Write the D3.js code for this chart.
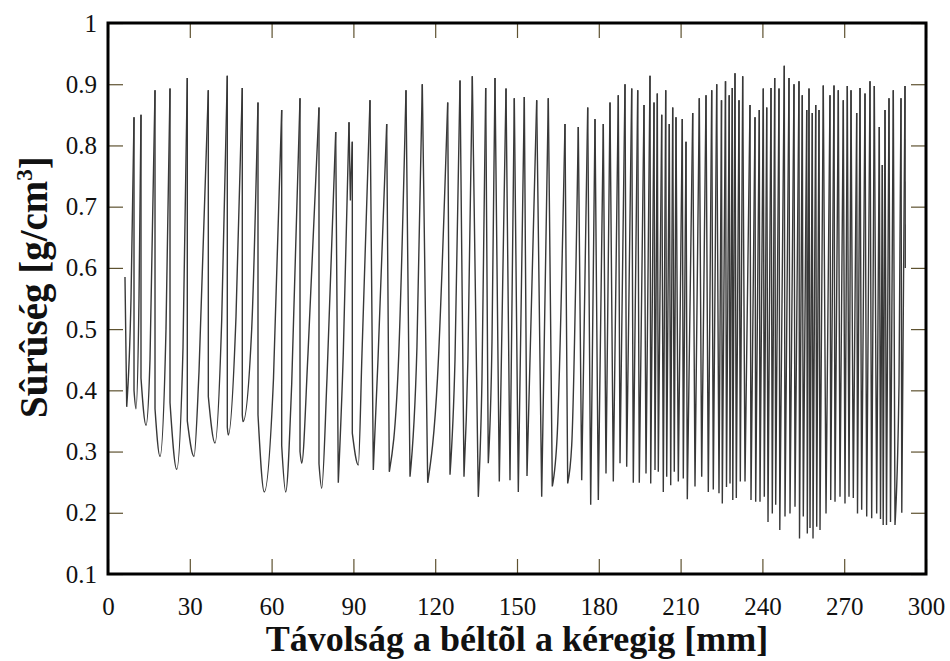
<!DOCTYPE html>
<html>
<head>
<meta charset="utf-8">
<script src="https://cdnjs.cloudflare.com/ajax/libs/d3/7.8.5/d3.min.js"></script>
<style>
  body { margin: 0; background: #fff; }
  svg { display: block; }
</style>
</head>
<body>
<div id="chart"></div>
<script>

// axis ticks
var xTicks = [0, 30, 60, 90, 120, 150, 180, 210, 240, 270, 300];
var yTicks = [0.1, 0.2, 0.3, 0.4, 0.5, 0.6, 0.7, 0.8, 0.9, 1];

// first and last sample of the profile
var startMm = 6.23, startVal = 0.585;
var endMm = 292.4, endVal = 0.6;

// one entry per ring: earlywood minimum, optional knee on the way up, latewood peak
var minMm = [6.86, 10.27, 13.94, 19.07, 25.20, 31.54, 39.24, 44.12, 49.51, 57.32,
    65.17, 71.04, 78.37, 84.46, 88.90, 91.80, 97.30, 103.17, 110.76, 117.25,
    125.43, 130.56, 135.81, 139.47, 143.51, 147.43, 150.48, 153.67, 159.06, 162.95,
    168.59, 173.73, 177.03, 179.82, 182.64, 185.32, 187.78, 190.23, 192.65, 194.85,
    197.31, 199.04, 200.61, 201.82, 203.65, 204.90, 206.37, 207.69, 209.16, 210.99,
    212.46, 215.28, 217.74, 220.16, 221.99, 224.08, 225.29, 226.83, 228.12, 229.14,
    230.43, 231.90, 233.62, 235.82, 237.54, 239.12, 240.70, 242.06, 243.63, 244.88,
    246.38, 248.29, 250.12, 251.96, 253.61, 255.00, 256.47, 257.46, 258.56, 259.92,
    261.13, 263.33, 265.05, 266.63, 268.46, 270.29, 271.76, 273.34, 274.88, 276.41,
    278.25, 280.08, 281.91, 283.31, 284.30, 285.51, 286.98, 288.63, 291.12];

var minVal = [0.373, 0.37, 0.343, 0.292, 0.271, 0.292, 0.314, 0.327, 0.349, 0.234,
    0.234, 0.281, 0.24, 0.249, 0.71, 0.278, 0.27, 0.267, 0.259, 0.249,
    0.262, 0.259, 0.226, 0.281, 0.251, 0.253, 0.234, 0.26, 0.226, 0.243,
    0.248, 0.253, 0.213, 0.221, 0.264, 0.251, 0.281, 0.275, 0.249, 0.249,
    0.264, 0.248, 0.27, 0.267, 0.234, 0.259, 0.245, 0.267, 0.251, 0.256,
    0.222, 0.243, 0.259, 0.234, 0.238, 0.232, 0.215, 0.242, 0.248, 0.221,
    0.224, 0.251, 0.251, 0.221, 0.218, 0.218, 0.226, 0.185, 0.199, 0.213,
    0.172, 0.194, 0.199, 0.21, 0.158, 0.194, 0.166, 0.175, 0.158, 0.177,
    0.172, 0.199, 0.221, 0.218, 0.226, 0.215, 0.226, 0.224, 0.199, 0.205,
    0.194, 0.191, 0.199, 0.19, 0.18, 0.18, 0.185, 0.18, 0.20];

// where the steep fall after the previous peak ends (null = falls straight to the minimum)
var dropVal = [null, 0.40, 0.42, 0.37, 0.38, 0.35, 0.39, 0.34, 0.36, 0.36,
    0.31, 0.30, 0.28, null, null, 0.33, null, null, null, null,
    null, null, null, null, null, null, null, null, null, null,
    null, null, null, null, null, null, null, null, null, null,
    null, null, null, null, null, null, null, null, null, null,
    null, null, null, null, null, null, null, null, null, null,
    null, null, null, null, null, null, null, null, null, null,
    null, null, null, null, null, null, null, null, null, null,
    null, null, null, null, null, null, null, null, null, null,
    null, null, null, null, null, null, null, null, null];

var midMm = [8.44, 11.37, 15.40, 21.27, 27.51, 33.37, 41.70, 46.94, 52.70, 60.70,
    67.37, 73.35, 80.32, 86.29, null, 93.15, 99.02, 106.47, 113.30, 120.84,
    127.26, 131.99, 137.16, 140.83, null, null, null, null, null, 164.78,
    170.06, null, null, null, null, null, null, null, null, null,
    null, null, null, null, null, null, null, null, null, null,
    null, null, null, null, null, null, null, null, null, null,
    null, null, null, null, null, null, null, null, null, null,
    null, null, null, null, null, null, null, null, null, null,
    null, null, null, null, null, null, null, null, null, null,
    null, null, null, null, null, null, null, 290.1, null];

var midVal = [0.55, 0.55, 0.45, 0.50, 0.47, 0.43, 0.515, 0.52, 0.50, 0.42,
    0.41, 0.46, 0.42, 0.46, null, 0.46, 0.45, 0.44, 0.47, 0.42,
    0.45, 0.45, 0.42, 0.48, null, null, null, null, null, 0.33,
    0.31, null, null, null, null, null, null, null, null, null,
    null, null, null, null, null, null, null, null, null, null,
    null, null, null, null, null, null, null, null, null, null,
    null, null, null, null, null, null, null, null, null, null,
    null, null, null, null, null, null, null, null, null, null,
    null, null, null, null, null, null, null, null, null, null,
    null, null, null, null, null, null, null, 0.41, null];

var peakMm = [9.54, 12.10, 17.24, 22.74, 29.08, 36.79, 43.75, 49.25, 55.01, 63.70,
    70.42, 77.38, 83.51, 88.39, 89.60, 96.09, 102.21, 109.29, 115.27, 124.58,
    129.10, 133.61, 138.52, 141.93, 145.97, 149.01, 152.68, 157.22, 161.48, 167.60,
    172.48, 175.93, 178.61, 181.65, 184.11, 187.15, 189.61, 192.07, 194.27, 196.58,
    198.78, 200.25, 201.46, 203.07, 204.54, 205.85, 207.10, 208.31, 210.62, 211.98,
    214.44, 216.86, 219.32, 221.41, 223.24, 225.00, 226.47, 227.83, 228.96, 229.95,
    231.42, 232.77, 235.45, 237.29, 238.86, 240.33, 241.58, 243.16, 244.51, 246.09,
    248.03, 249.76, 251.59, 253.42, 254.63, 256.25, 257.09, 258.30, 259.55, 260.76,
    262.33, 264.79, 266.26, 267.84, 269.67, 271.14, 272.50, 274.58, 275.80, 277.63,
    279.46, 281.04, 282.87, 283.98, 284.97, 286.43, 288.01, 290.83, 292.30];

var peakVal = [0.846, 0.85, 0.89, 0.893, 0.91, 0.89, 0.914, 0.894, 0.87, 0.858,
    0.877, 0.862, 0.822, 0.838, 0.806, 0.874, 0.835, 0.89, 0.90, 0.87,
    0.906, 0.913, 0.894, 0.91, 0.893, 0.877, 0.879, 0.874, 0.877, 0.835,
    0.830, 0.862, 0.843, 0.835, 0.87, 0.882, 0.90, 0.893, 0.89, 0.866,
    0.914, 0.87, 0.885, 0.85, 0.89, 0.835, 0.862, 0.846, 0.843, 0.806,
    0.853, 0.877, 0.882, 0.89, 0.90, 0.874, 0.905, 0.882, 0.894, 0.918,
    0.874, 0.913, 0.866, 0.846, 0.858, 0.893, 0.862, 0.894, 0.91, 0.893,
    0.93, 0.91, 0.90, 0.905, 0.882, 0.858, 0.893, 0.853, 0.866, 0.858,
    0.898, 0.882, 0.898, 0.89, 0.874, 0.897, 0.89, 0.853, 0.894, 0.885,
    0.905, 0.897, 0.83, 0.768, 0.858, 0.877, 0.89, 0.877, 0.897];


function DensityChart(options) {

    var _self = this;

    _self.parentId = options.parentId;

    _self.margin = {
        top: 23,
        right: 24,
        bottom: 87,
        left: 108
    };

    _self.width = options.width - _self.margin.left - _self.margin.right;
    _self.height = options.height - _self.margin.top - _self.margin.bottom;

    _self.svg = d3.select(_self.parentId).append("svg")
        .attr("width", options.width)
        .attr("height", options.height);

    _self.g = _self.svg.append("g")
        .attr("transform", "translate(" + _self.margin.left + "," + _self.margin.top + ")");

    _self.x = d3.scaleLinear().domain([0, 300]).range([0, _self.width]);
    _self.y = d3.scaleLinear().domain([0.1, 1]).range([_self.height, 0]);
}

DensityChart.prototype.drawAxes = function () {

    var _self = this;
    var tickLen = 15;
    var fmt = d3.format("~g");

    _self.g.append("g")
        .attr("class", "axis")
        .attr("transform", "translate(0," + _self.height + ")")
        .call(d3.axisBottom(_self.x).tickValues(xTicks).tickSizeInner(-tickLen).tickSizeOuter(0).tickPadding(23).tickFormat(fmt));

    _self.g.append("g")
        .attr("class", "axis")
        .call(d3.axisTop(_self.x).tickValues(xTicks).tickSizeInner(-tickLen).tickSizeOuter(0).tickFormat(""));

    _self.g.append("g")
        .attr("class", "axis")
        .call(d3.axisLeft(_self.y).tickValues(yTicks).tickSizeInner(-tickLen).tickSizeOuter(0).tickPadding(11).tickFormat(fmt));

    _self.g.append("g")
        .attr("class", "axis")
        .attr("transform", "translate(" + _self.width + ",0)")
        .call(d3.axisRight(_self.y).tickValues(yTicks).tickSizeInner(-tickLen).tickSizeOuter(0).tickFormat(""));

    _self.g.selectAll(".axis .domain").remove();

    _self.g.selectAll(".axis line")
        .attr("stroke", "#5e5230")
        .attr("stroke-width", 1.2);

    _self.g.selectAll(".axis text")
        .attr("fill", "#111")
        .attr("font-family", "'Liberation Serif', 'DejaVu Serif', serif")
        .attr("font-size", 25);
}

DensityChart.prototype.drawProfile = function () {

    var _self = this;
    var x = _self.x, y = _self.y;

    var curve = d3.line()
        .x(function (d) { return x(d[0]); })
        .y(function (d) { return y(d[1]); })
        .curve(d3.curveMonotoneX);

    var rings = peakMm.map(function (p, i) {
        var fromX = i === 0 ? startMm : peakMm[i - 1];
        var fromY = i === 0 ? startVal : peakVal[i - 1];
        var pts = [];
        if (dropVal[i] != null) {
            pts.push([fromX, dropVal[i]]);
        }
        pts.push([minMm[i], minVal[i]]);
        if (midMm[i] != null) {
            pts.push([midMm[i], midVal[i]]);
        }
        pts.push([p, peakVal[i]]);
        return { from: [fromX, fromY], pts: pts };
    });

    _self.g.append("g")
        .selectAll(".ring")
        .data(rings)
        .enter().append("path")
        .attr("class", "ring")
        .attr("fill", "none")
        .attr("stroke", "#383838")
        .attr("stroke-width", 1.4)
        .attr("d", function (d) {
            return "M" + x(d.from[0]) + "," + y(d.from[1]) + "L" + curve(d.pts).slice(1);
        });

    // last fall at the bark end
    var last = peakMm.length - 1;
    _self.g.append("path")
        .attr("fill", "none")
        .attr("stroke", "#383838")
        .attr("stroke-width", 1.4)
        .attr("d", d3.line()([[x(peakMm[last]), y(peakVal[last])], [x(endMm), y(endVal)]]));
}

DensityChart.prototype.drawFrame = function () {

    var _self = this;

    _self.g.append("rect")
        .attr("x", 0)
        .attr("y", 0)
        .attr("width", _self.width)
        .attr("height", _self.height)
        .attr("fill", "none")
        .attr("stroke", "#000")
        .attr("stroke-width", 3);

    _self.svg.append("text")
        .attr("x", _self.margin.left + _self.width / 2)
        .attr("y", 651)
        .attr("text-anchor", "middle")
        .attr("font-family", "'Liberation Serif', 'DejaVu Serif', serif")
        .attr("font-weight", "bold")
        .attr("font-size", 36)
        .attr("fill", "#111")
        .text("Távolság a béltõl a kéregig [mm]");

    var ylab = _self.svg.append("text")
        .attr("transform", "translate(47,287) rotate(-90)")
        .attr("text-anchor", "middle")
        .attr("font-family", "'Liberation Serif', 'DejaVu Serif', serif")
        .attr("font-weight", "bold")
        .attr("font-size", 39)
        .attr("fill", "#111");

    ylab.append("tspan").text("Sûrûség [g/cm");
    ylab.append("tspan").attr("dy", -15).attr("font-size", 23).text("3");
    ylab.append("tspan").attr("dy", 15).text("]");
}

var chart = new DensityChart({ parentId: "#chart", width: 950, height: 661 });
chart.drawAxes();
chart.drawProfile();
chart.drawFrame();

</script>
</body>
</html>
